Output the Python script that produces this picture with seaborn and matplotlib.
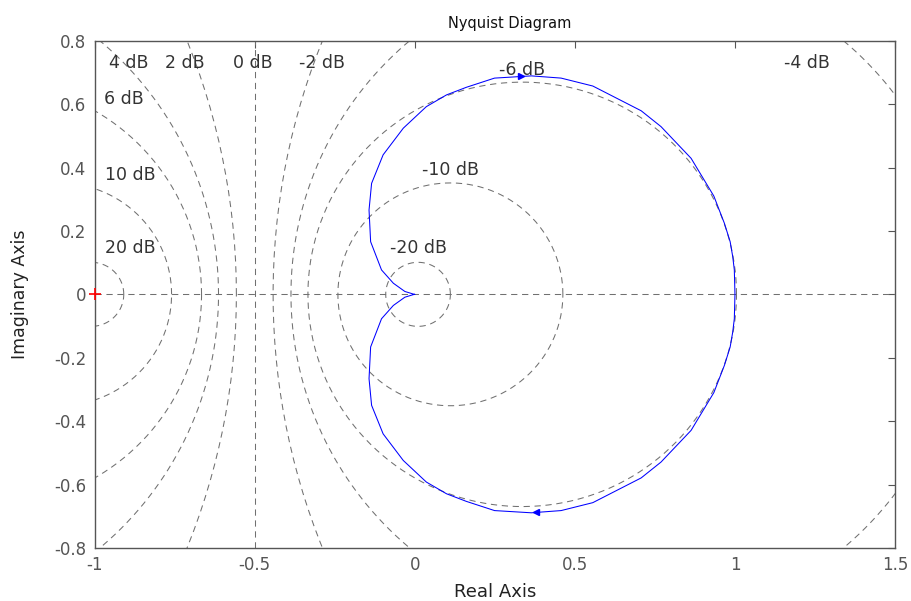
import numpy as np
import pandas as pd
import matplotlib
matplotlib.use('Agg')
import matplotlib.pyplot as plt
import seaborn as sns

sns.set_style('white')
plt.rcParams['font.family'] = ['DejaVu Sans']
plt.rcParams['axes.unicode_minus'] = False

# Nyquist curve, upper branch (from (1,0) to the origin)
re_upper = [1.000, 0.998, 0.993, 0.985, 0.967, 0.934, 0.863, 0.769, 0.707, 0.556,
            0.457, 0.364, 0.249, 0.161, 0.099, 0.036, -0.036, -0.099, -0.135,
            -0.143, -0.138, -0.104, -0.067, -0.031, -0.005, 0.0]
im_upper = [0.000, 0.077, 0.119, 0.166, 0.224, 0.310, 0.429, 0.529, 0.579, 0.657,
            0.682, 0.689, 0.682, 0.653, 0.629, 0.592, 0.524, 0.440, 0.350,
            0.266, 0.166, 0.077, 0.035, 0.009, 0.001, 0.0]

# direction arrows on the curve
arrow_x = [0.333, 0.380]
arrow_y = [0.690, -0.685]
arrow_dir = ['>', '<']

# M-circle levels (dB) and their labels
m_db = [20, 10, 6, 4, 2, 0, -2, -4, -6, -10, -20]
lab_text = ['20 dB', '10 dB', '6 dB', '4 dB', '2 dB', '0 dB', '-2 dB', '-4 dB',
            '-6 dB', '-10 dB', '-20 dB']
lab_x = [-0.89, -0.89, -0.91, -0.895, -0.717, -0.505, -0.29, 1.226, 0.336, 0.112, 0.010]
lab_y = [0.146, 0.377, 0.617, 0.730, 0.730, 0.730, 0.730, 0.730, 0.708, 0.393, 0.146]

fig = plt.figure(figsize=(9.12, 6.01), dpi=100)
ax = fig.add_axes([0.1038, 0.0882, 0.8776, 0.8441])

grid_kw = dict(color='#707070', lw=0.75, ls=(0, (6, 4.5)), zorder=1)
theta = np.linspace(0, 2 * np.pi, 500)
for db in m_db:
    if db == 0:
        ax.axvline(-0.5, **grid_kw)
        continue
    m2 = (10 ** (db / 20.0)) ** 2
    c = -m2 / (m2 - 1)
    r = abs(np.sqrt(m2) / (m2 - 1))
    ax.plot(c + r * np.cos(theta), r * np.sin(theta), **grid_kw)
ax.axhline(0, **grid_kw)

for t, x, y in zip(lab_text, lab_x, lab_y):
    ax.text(x, y, t, ha='center', va='center', fontsize=12.5, color='#333333', zorder=2)

# Nyquist curve: upper branch from origin to (1,0), then mirrored lower branch
curve = pd.DataFrame({
    're': re_upper[::-1] + re_upper[1:],
    'im': im_upper[::-1] + [-v for v in im_upper[1:]],
})
sns.lineplot(data=curve, x='re', y='im', sort=False, estimator=None,
             color='blue', lw=0.75, ax=ax, zorder=3)
for x, y, m in zip(arrow_x, arrow_y, arrow_dir):
    ax.plot(x, y, marker=m, color='blue', ms=5, zorder=4)
ax.plot(-1, 0, marker='+', color='red', ms=9, mew=1.2, zorder=4, clip_on=False)

ax.set_xlim(-1, 1.5)
ax.set_ylim(-0.8, 0.8)
ax.set_xticks([-1, -0.5, 0, 0.5, 1, 1.5])
ax.set_xticklabels(['-1', '-0.5', '0', '0.5', '1', '1.5'])
ax.set_yticks([-0.8, -0.6, -0.4, -0.2, 0, 0.2, 0.4, 0.6, 0.8])
ax.set_yticklabels(['-0.8', '-0.6', '-0.4', '-0.2', '0', '0.2', '0.4', '0.6', '0.8'])
ax.tick_params(direction='in', top=True, right=True, length=5, width=0.8,
               color='#555555', labelcolor='#555555', labelsize=12, pad=6)
for s in ax.spines.values():
    s.set_color('#555555')
    s.set_linewidth(1.0)

ax.set_xlabel('Real Axis', fontsize=13, color='#222222', labelpad=6)
ax.set_ylabel('Imaginary Axis', fontsize=12.5, color='#222222', labelpad=18)
ax.set_title('Nyquist Diagram', fontsize=10.5, color='#111111', pad=9, x=0.518)

fig.savefig('out.png', dpi=100)
